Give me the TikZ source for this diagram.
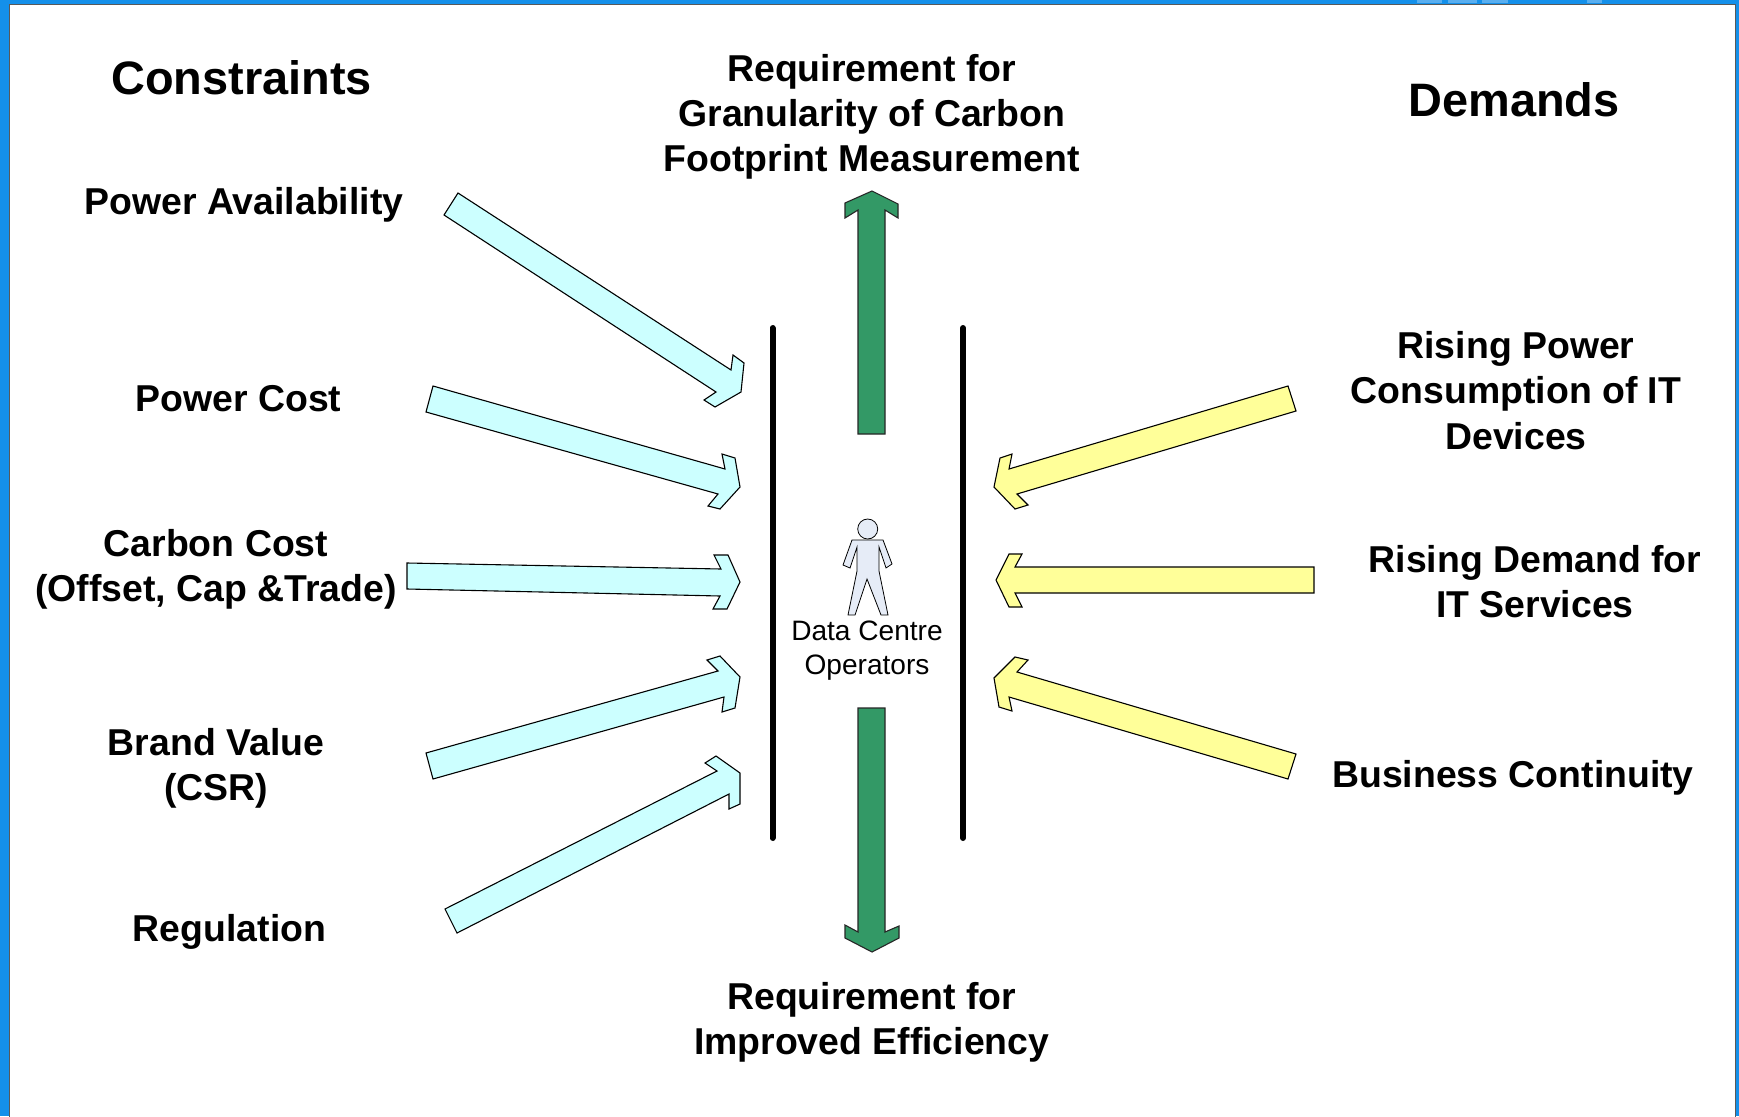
\documentclass[tikz,border=0pt]{standalone}
\usepackage{fontspec}
\setmainfont{Liberation Sans}
\definecolor{framebl}{RGB}{20,144,234}
\definecolor{frametop}{RGB}{90,175,240}
\definecolor{constcyan}{RGB}{204,255,255}
\definecolor{demandyel}{RGB}{255,255,153}
\definecolor{reqgreen}{RGB}{51,153,102}
\definecolor{personbl}{RGB}{230,236,247}
\begin{document}
\begin{tikzpicture}[x=1pt, y=-1pt,
  head/.style={font=\bfseries\fontsize{46.9}{54}\selectfont, align=center},
  item/.style={font=\bfseries\fontsize{37.4}{45.3}\selectfont, align=center},
  small/.style={font=\fontsize{28.1}{34}\selectfont, align=center},
  cyanarr/.style={draw, line width=1.1pt, line join=miter, fill=constcyan},
  yelarr/.style={draw, line width=1.1pt, line join=miter, fill=demandyel},
  greenarr/.style={draw=black!85, line width=1.1pt, fill=reqgreen},
  wall/.style={line width=6pt, line cap=round}]
\useasboundingbox (0,0) rectangle (1739,1116);
% Frame
\fill[framebl] (0,0) rectangle (1739,1116);
\foreach \xa/\xb in {1417/1442,1448/1477,1482/1508,1587/1602}
  \fill[frametop] (\xa,0) rectangle (\xb,3);
\draw[fill=white, draw=black!65, line width=1pt] (9.5,5) -- (1735,5) -- (1735,1117) -- (9.5,1117) -- cycle;
% Walls
\coordinate (wl1) at (772.5,328);
\coordinate (wl2) at (772.5,838);
\coordinate (wr1) at (963,328);
\coordinate (wr2) at (963,838);
\draw[wall] (wl1) -- (wl2);
\draw[wall] (wr1) -- (wr2);
% Left: constraints
\node[head] (constraints) at (241.5,77.6) {Constraints};
\node[item] (avail) at (244,205) {Power Availability};
\node[item] (cost) at (238.6,399) {Power Cost};
\node[item] (carbon) at (216,569.6) {Carbon Cost\\(Offset, Cap \&Trade)};
\node[item] (brand) at (216,768) {Brand Value\\(CSR)};
\node[item] (regul) at (229.6,932) {Regulation};
\draw[cyanarr] (458,193) -- (731,370) -- (733,355) -- (744,363) -- (741,392) -- (715,407) -- (704,400) -- (716,392) -- (444,215) -- cycle;
\draw[cyanarr] (433,386) -- (725,469) -- (722,454) -- (735,458) -- (740,487) -- (720,509) -- (708,506) -- (718,494) -- (426,412) -- cycle;
\draw[cyanarr] (407,563) -- (721,569) -- (714,555) -- (728,555) -- (740,582) -- (727,609) -- (713,609) -- (720,596) -- (407,589) -- cycle;
\draw[cyanarr] (426,753) -- (718,671) -- (707,660) -- (720,656) -- (740,677) -- (735,708) -- (722,712) -- (724,697) -- (433,779) -- cycle;
\draw[cyanarr] (445,909) -- (717,771) -- (705,763) -- (716,756) -- (740,773) -- (740,804) -- (729,809) -- (729,794) -- (457,933) -- cycle;
% Right: demands
\node[head] (demands) at (1514,100) {Demands};
\node[item] (rising) at (1516,390.5) {Rising Power\\Consumption of IT\\Devices};
\node[item] (demand) at (1535,581.5) {Rising Demand for\\IT Services};
\node[item] (contin) at (1513,778) {Business Continuity};
\draw[yelarr] (1288,386) -- (1009,469) -- (1012,454) -- (1000,458) -- (994,487) -- (1015,509) -- (1028,505) -- (1017,494) -- (1296,411) -- cycle;
\draw[yelarr] (1314,567) -- (1015,567) -- (1022,554) -- (1009,554) -- (996,580) -- (1009,607) -- (1022,607) -- (1015,593) -- (1314,593) -- cycle;
\draw[yelarr] (1296,754) -- (1017,672) -- (1028,660) -- (1015,657) -- (994,678) -- (999,707) -- (1012,711) -- (1009,697) -- (1288,779) -- cycle;
% Top and bottom: requirements
\node[item] (reqtop) at (871.7,117) {Requirement for\\Granularity of Carbon\\Footprint Measurement};
\node[item] (reqbot) at (871.7,1022) {Requirement for\\Improved Efficiency};
\draw[greenarr] (858,434) -- (858,210) -- (845,218) -- (845,203) -- (872,191) -- (898,204) -- (898,218) -- (885,210) -- (885,434) -- cycle;
\draw[greenarr] (858,708) -- (858,932) -- (845,925) -- (845,938) -- (872,952) -- (899,938) -- (899,926) -- (885,932) -- (885,708) -- cycle;
% Centre: operator
\draw[fill=personbl, line width=0.8pt] (852,540) -- (883,540) -- (892,564) -- (886,568) -- (879,547) -- (879,571) -- (888,615) -- (881,615) -- (867,579) -- (855,615) -- (848,615) -- (857,571) -- (857,547) -- (850,568) -- (843,565) -- cycle;
\draw[fill=personbl, line width=0.8pt] (867.7,529) circle (10);
\node[small] (operators) at (867,651) {Data Centre\\Operators};
\end{tikzpicture}
\end{document}
